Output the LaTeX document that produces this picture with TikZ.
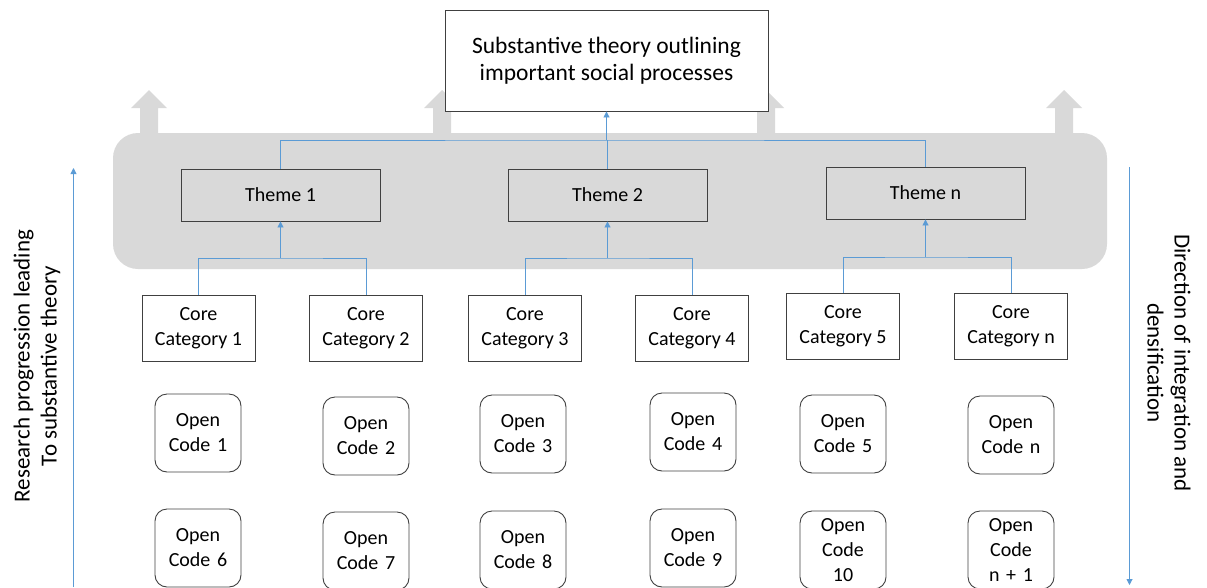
\documentclass[tikz,border=0pt]{standalone}
\usepackage{fontspec}
\setmainfont{Carlito}
\usetikzlibrary{arrows.meta}
\definecolor{lineblue}{HTML}{5B9BD5}
\definecolor{boxgray}{HTML}{D9D9D9}
\definecolor{edgegray}{HTML}{404040}
\tikzset{
  txt/.style={font=\fontsize{20}{25}\selectfont, align=center, inner sep=0pt},
  sidetxt/.style={txt, font=\fontsize{23}{27}\selectfont},
  sqbox/.style={txt, draw=edgegray, line width=0.9pt, fill=white, minimum width=113pt, minimum height=66pt},
  themebox/.style={txt, draw=edgegray, line width=0.9pt, minimum width=199pt, minimum height=52pt},
  codebox/.style={txt, draw=edgegray, line width=0.9pt, rounded corners=12pt, minimum width=86pt, minimum height=78pt, text width=80pt},
  conn/.style={draw=lineblue, line width=0.9pt},
  conna/.style={conn, -{Triangle[length=6pt,width=6pt]}},
}
\begin{document}
\begin{tikzpicture}[x=1pt,y=-1pt]
\useasboundingbox (0,0) rectangle (1207,587);
% block arrows
\foreach \cx in {149,442,766,1064}{
  \fill[boxgray] (\cx-9,140) -- (\cx-9,108) -- (\cx-18,108) -- (\cx,90) -- (\cx+18,108) -- (\cx+9,108) -- (\cx+9,140) -- cycle;
}
% gray band
\fill[boxgray, rounded corners=25pt] (113,133) rectangle (1107,269);
% top box
\node[txt, draw=edgegray, line width=0.9pt, fill=white, minimum width=323pt, minimum height=101pt, font=\fontsize{23.5}{27.5}\selectfont] (top) at (606.5,60.5) {Substantive theory outlining\\important social processes};
% themes
\node[themebox] (t1) at (280.5,195) {Theme 1};
\node[themebox] (t2) at (607.5,195) {Theme 2};
\node[themebox] (tn) at (925.5,193) {Theme n};
% core categories
\node[sqbox] (c1) at (198.5,328) {Core\\Category 1};
\node[sqbox] (c2) at (366,328) {Core\\Category 2};
\node[sqbox] (c3) at (525,328) {Core\\Category 3};
\node[sqbox] (c4) at (692,328) {Core\\Category 4};
\node[sqbox] (c5) at (843,326) {Core\\Category 5};
\node[sqbox] (cn) at (1011,326) {Core\\Category n};
% open codes row 1
\node[codebox] (o1) at (198,433) {Open\\Code 1};
\node[codebox] (o2) at (366,436) {Open\\Code 2};
\node[codebox] (o3) at (523,434) {Open\\Code 3};
\node[codebox] (o4) at (693,432) {Open\\Code 4};
\node[codebox] (o5) at (843,434) {Open\\Code 5};
\node[codebox] (on) at (1011,435) {Open\\Code n};
% open codes row 2
\node[codebox] (o6) at (198,548) {Open\\Code 6};
\node[codebox] (o7) at (366,551) {Open\\Code 7};
\node[codebox] (o8) at (523,550) {Open\\Code 8};
\node[codebox] (o9) at (693,548) {Open\\Code 9};
\node[codebox] (o10) at (843,550) {Open\\Code\\10};
\node[codebox] (on1) at (1011,550) {Open\\Code\\n + 1};
% junctions
\coordinate (j1) at (280.5,258);
\coordinate (j2) at (607.5,258);
\coordinate (jn) at (925.5,257);
\coordinate (jt) at (606.5,140);
% connectors
\draw[conn] (c1.north) |- (j1) -| (c2.north);
\draw[conna] (j1) -- (t1.south);
\draw[conn] (c3.north) |- (j2) -| (c4.north);
\draw[conna] (j2) -- (t2.south);
\draw[conn] (c5.north) |- (jn) -| (cn.north);
\draw[conna] (jn) -- (tn.south);
\draw[conn] (t1.north) |- (jt) -| (tn.north);
\draw[conn] (t2.north) -- (t2.north |- jt);
\draw[conna] (jt) -- (top.south);
% side arrows
\coordinate (lb) at (73.5,587);
\coordinate (lt) at (73.5,168);
\draw[conna] (lb) -- (lt);
\coordinate (rt) at (1129.5,167);
\coordinate (rb) at (1129.5,585);
\draw[conna] (rt) -- (rb);
% side labels
\node[sidetxt, rotate=90] (ll) at (37,366) {Research progression leading\\To substantive theory};
\node[sidetxt, rotate=-90] (rl) at (1169,363) {Direction of integration and\\densification};
\end{tikzpicture}
\end{document}
